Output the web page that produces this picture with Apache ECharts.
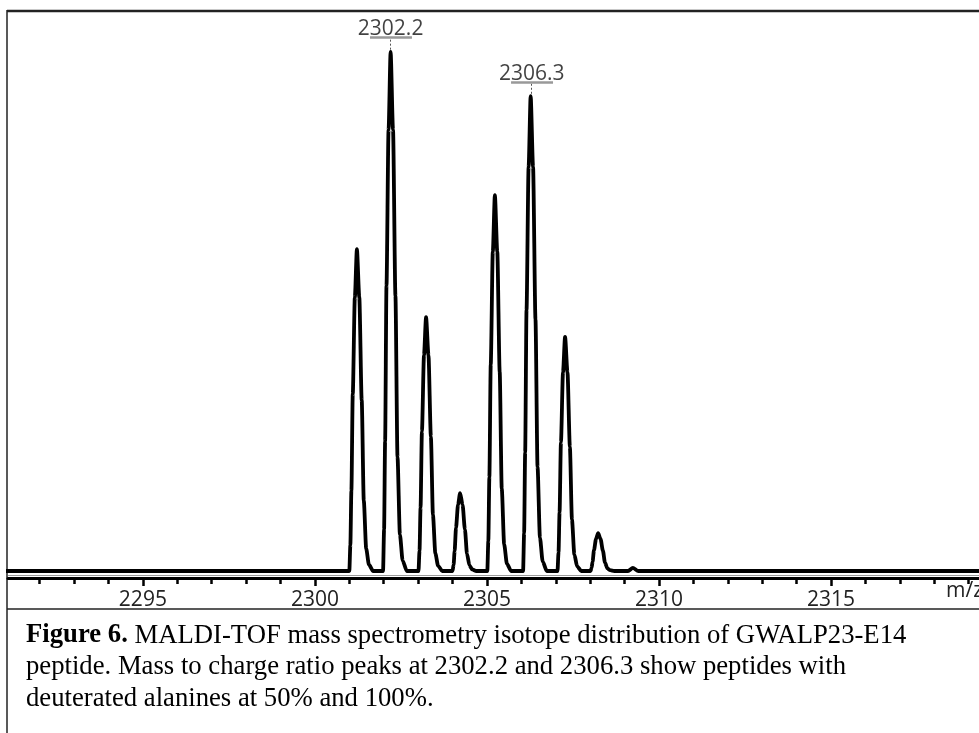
<!DOCTYPE html>
<html>
<head>
<meta charset="utf-8">
<script src="https://cdn.jsdelivr.net/npm/echarts@6/dist/echarts.min.js"></script>
<style>
  html, body { margin: 0; padding: 0; background: #fff; }
  #chart { width: 979px; height: 733px; }
</style>
</head>
<body>
<div id="chart"></div>
<script>
// ---- data ----
// m/z sample points of the profile spectrum
const mz = [
  2291.0,
  2301.00, 2301.03, 2301.06, 2301.10, 2301.16, 2301.22, 2301.29, 2301.36, 2301.42, 2301.49, 2301.57, 2301.69,
  2301.98, 2302.01, 2302.04, 2302.08, 2302.14, 2302.20, 2302.27, 2302.34, 2302.40, 2302.47, 2302.55, 2302.67,
  2303.01, 2303.04, 2303.07, 2303.11, 2303.17, 2303.23, 2303.30, 2303.37, 2303.43, 2303.50, 2303.58, 2303.70,
  2304.00, 2304.03, 2304.06, 2304.10, 2304.16, 2304.22, 2304.29, 2304.36, 2304.42, 2304.49, 2304.57, 2304.69,
  2305.01, 2305.04, 2305.07, 2305.11, 2305.17, 2305.23, 2305.30, 2305.37, 2305.43, 2305.50, 2305.58, 2305.70,
  2306.05, 2306.08, 2306.11, 2306.15, 2306.21, 2306.27, 2306.34, 2306.41, 2306.47, 2306.54, 2306.62, 2306.74,
  2307.05, 2307.08, 2307.11, 2307.15, 2307.21, 2307.27, 2307.34, 2307.41, 2307.47, 2307.54, 2307.62, 2307.74,
  2308.01, 2308.04, 2308.07, 2308.11, 2308.17, 2308.23, 2308.30, 2308.37, 2308.43, 2308.50, 2308.58, 2308.70,
  2309.10, 2309.24, 2309.40,
  2319.5
];
// relative intensity (%) at those points
const intensity = [
  0,
  0, 5.0, 15.5, 34.1, 52.7, 62.0, 52.7, 32.9, 13.6, 4.3, 1.2, 0,
  0, 8.0, 25.0, 55.0, 85.0, 100, 85.0, 53.0, 22.0, 7.0, 2.0, 0,
  0, 3.9, 12.2, 26.9, 41.6, 48.9, 41.6, 25.9, 10.8, 3.4, 1.0, 0,
  0, 1.2, 3.8, 8.3, 12.8, 15.0, 12.8, 8.0, 3.3, 1.1, 0.3, 0,
  0, 5.8, 18.1, 39.8, 61.5, 72.4, 61.5, 38.4, 15.9, 5.1, 1.4, 0,
  0, 7.3, 22.9, 50.3, 77.8, 91.5, 77.8, 48.5, 20.1, 6.4, 1.8, 0,
  0, 3.6, 11.3, 24.8, 38.3, 45.1, 38.3, 23.9, 9.9, 3.2, 0.9, 0,
  0, 0.6, 1.8, 4.0, 6.2, 7.3, 6.2, 3.9, 1.6, 0.5, 0.15, 0,
  0, 0.6, 0,
  0
];
// annotated peaks
const labelMz = [2302.2, 2306.3];
const labelHeight = [100, 91.5];
const labelText = ['2302.2', '2306.3'];
// axis ticks
const majorTicks = [2295, 2300, 2305, 2310, 2315];
const minorTicks = [2292,2293,2294,2296,2297,2298,2299,2301,2302,2303,2304,2306,2307,2308,2309,2311,2312,2313,2314,2316,2317,2318,2319];
const xName = 'm/z';
const captionBold = 'Figure 6.';
const captionLines = [
  ' MALDI-TOF mass spectrometry isotope distribution of GWALP23-E14',
  'peptide. Mass to charge ratio peaks at 2302.2 and 2306.3 show peptides with',
  'deuterated alanines at 50% and 100%.'
];

// ---- chart ----
const X_MIN = 2291.08, X_MAX = 2319.3;
const Y_MIN = -1.35, Y_MAX = 107.9;
const chart = echarts.init(document.getElementById('chart'), null, { renderer: 'canvas' });

const spectrum = mz.map((m, i) => [m, intensity[i]]);
const labelPts = labelMz.map((m, i) => ({ value: [m, labelHeight[i]], name: labelText[i] }));
const dotted = [], under = [];
labelMz.forEach((m, i) => {
  const h = labelHeight[i];
  dotted.push([{ coord: [m, h + 0.45] }, { coord: [m, h + 2.6] }]);
  under.push([{ coord: [m - 0.6, h + 2.75] }, { coord: [m + 0.62, h + 2.75] }]);
});

const axisCommon = {
  type: 'value', min: X_MIN, max: X_MAX, position: 'bottom',
  splitLine: { show: false }
};

const FONT_CAP = 26.7;
chart.setOption({
  animation: false,
  backgroundColor: '#fff',
  grid: { left: 8, right: 0, top: 11, bottom: 155, containLabel: false },
  xAxis: [
    Object.assign({}, axisCommon, {
      axisLine: { show: true, onZero: false, lineStyle: { color: '#000', width: 3 } },
      axisTick: { show: true, customValues: majorTicks, length: 8, lineStyle: { color: '#000', width: 2.5 } },
      axisLabel: { show: true, customValues: majorTicks, margin: 12, color: '#222',
        fontFamily: 'Open Sans', fontSize: 21, formatter: v => String(v) }
    }),
    Object.assign({}, axisCommon, {
      axisLine: { show: false, onZero: false },
      axisTick: { show: true, customValues: minorTicks, length: 6, lineStyle: { color: '#000', width: 2.5 } },
      axisLabel: { show: false }
    })
  ],
  yAxis: { type: 'value', min: Y_MIN, max: Y_MAX, show: false, splitLine: { show: false } },
  series: [
    {
      type: 'line', xAxisIndex: 0, data: spectrum, showSymbol: false, symbol: 'none',
      smooth: 0.25, smoothMonotone: 'x',
      lineStyle: { color: '#000', width: 3.8 },
      markLine: {
        silent: true, symbol: 'none', animation: false,
        label: { show: false },
        lineStyle: { color: '#9a9a9a', width: 1.2, type: 'solid' },
        data: [[{ coord: [X_MIN, -0.75] }, { coord: [X_MAX, -0.75] }]]
      },
      z: 3
    },
    {
      type: 'scatter', xAxisIndex: 0, data: labelPts, symbolSize: 0,
      label: { show: true, position: 'top', distance: 12, formatter: p => p.name,
        color: '#111', fontFamily: 'Open Sans', fontSize: 21 },
      markLine: {
        silent: true, symbol: 'none', animation: false, label: { show: false },
        data: dotted.map(d => [Object.assign({ lineStyle: { color: '#555', width: 1, type: [2, 2] } }, d[0]), d[1]])
          .concat(under.map(d => [Object.assign({ lineStyle: { color: '#999', width: 2.5, type: 'solid' } }, d[0]), d[1]]))
      },
      z: 4
    }
  ],
  graphic: [
    { type: 'line', shape: { x1: 7, y1: 11, x2: 979, y2: 11 }, style: { stroke: '#222', lineWidth: 2.5 } },
    { type: 'line', shape: { x1: 7, y1: 10, x2: 7, y2: 733 }, style: { stroke: '#222', lineWidth: 1.5 } },
    { type: 'line', shape: { x1: 7, y1: 609, x2: 979, y2: 609 }, style: { stroke: '#222', lineWidth: 1.5 } },
    { type: 'text', left: 946, top: 581, style: { text: xName, font: '21px "Open Sans"', fill: '#222' } },
    { type: 'text', left: 26, top: 622, style: {
        text: '{b|' + captionBold + '}{n|' + captionLines[0] + '}',
        rich: {
          b: { fontFamily: 'Liberation Serif', fontSize: FONT_CAP, fontWeight: 'bold', fill: '#000' },
          n: { fontFamily: 'Liberation Serif', fontSize: FONT_CAP, fill: '#000' }
        }
    } },
    { type: 'text', left: 26, top: 653, style: { text: captionLines[1], font: FONT_CAP + 'px "Liberation Serif"', fill: '#000' } },
    { type: 'text', left: 26, top: 685, style: { text: captionLines[2], font: FONT_CAP + 'px "Liberation Serif"', fill: '#000' } }
  ]
});
</script>
</body>
</html>
